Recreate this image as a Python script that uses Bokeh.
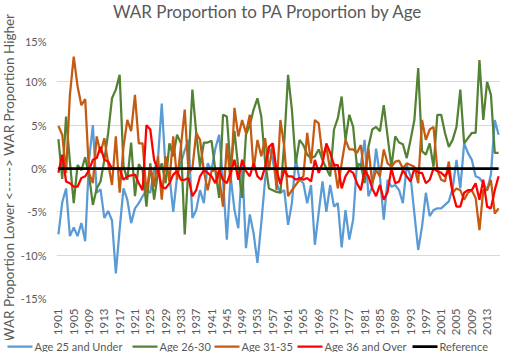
import math
from bokeh.plotting import figure
from bokeh.layouts import column, row
from bokeh.models import Range1d, FixedTicker
from bokeh.core.properties import value
from bokeh.embed import file_html
from bokeh.resources import INLINE

years = list(range(1901, 2017))
tick_years = years[::4]

age_25_under = [
    -7.6, -3.9, -2.3, -7.8, -6.8, -7.8, -6.3, -8.4, 1.0, 5.0,
    -2.8, -2.4, -5.7, -4.9, -6.0, -12.1, -7.0, -2.3, -3.6, -6.3,
    -4.6, -4.0, -3.2, -2.5, -2.8, -0.2, 1.0, 7.5, -0.1, -0.8,
    -5.0, -0.9, 0.6, 2.1, 3.3, -5.7, -4.8, -2.5, -4.0, 0.6,
    -0.2, 2.3, 3.9, -1.3, -8.2, -0.9, -4.8, -6.9, 0.6, -9.2,
    -5.3, -7.5, -10.9, -6.3, -1.3, 2.5, 1.0, -1.7, -2.8, -2.5,
    -6.5, -4.0, 1.2, -1.3, -1.7, -4.0, -1.9, -8.8, -5.1, -1.5,
    -5.0, -1.9, -4.4, -4.0, -9.1, -4.8, -8.2, -5.9, 0.6, 0.4,
    3.3, -3.2, -2.1, 2.3, -0.9, -5.9, -1.3, -2.1, -1.9, -2.5,
    -4.0, 0.4, -0.9, -5.2, -9.4, -6.7, -2.8, -5.5, -4.8, -4.6,
    -4.6, -4.2, -3.8, -2.3, 1.0, -2.3, 2.9, 1.8, 1.0, -0.9,
    -1.1, -1.7, -2.5, -0.7, 5.6, 3.9,
]
age_26_30 = [
    3.4, -1.2, 6.0, 0.8, -4.0, 0.4, -0.2, 1.3, -0.8, -4.2,
    -2.3, -1.5, 1.0, 4.1, 8.1, 9.1, 10.8, 0.3, -1.3, 3.0,
    -3.2, 0.5, -0.2, -4.4, 0.6, -3.6, -0.5, 0.6, -1.7, 2.9,
    1.4, 3.9, 2.9, -7.6, 0.6, 9.1, 4.1, 0.2, 3.0, 3.0,
    3.2, -0.2, -3.4, 6.2, 6.0, 0.0, 4.3, 0.0, -3.4, 3.9,
    5.0, 6.8, 8.1, 6.0, 0.8, -2.3, -2.5, -2.7, -2.8, 3.0,
    10.8, 6.8, 0.6, 3.3, 2.7, 1.6, 1.2, 1.4, 2.2, 1.0,
    0.0, -0.9, 4.5, 5.8, 8.3, 3.3, 6.2, 4.8, 0.2, 0.5,
    -1.7, 2.5, 4.5, 4.8, 4.3, 7.3, 3.7, 0.2, 3.7, 3.0,
    2.8, 1.2, 3.3, 5.6, 11.6, 2.0, 1.6, 2.9, 0.2, 6.2,
    6.2, 4.1, 2.5, 3.3, 4.8, 9.1, 2.9, 3.5, 4.1, 4.1,
    12.5, 5.6, 10.0, 8.5, 1.8, 1.8,
]
age_31_35 = [
    4.9, 3.9, -0.5, 8.5, 12.9, 9.5, 7.3, 8.0, -0.5, -1.7,
    3.7, 1.8, 3.5, 0.6, -1.9, 3.7, -2.8, 2.5, 5.6, 4.3,
    8.5, 2.9, 2.9, -2.8, 0.2, -2.1, 1.4, -3.6, 1.4, -1.5,
    3.7, -1.3, 2.5, 6.8, -0.5, 0.0, 4.1, 3.3, -0.3, -2.5,
    -0.3, -0.2, -1.0, -4.4, 2.9, -1.7, 7.0, 3.7, 5.6, 4.1,
    6.2, -0.2, 3.3, 1.4, 3.5, -0.2, 2.9, -2.5, 5.6, 2.5,
    -3.2, -2.5, -1.9, -1.3, -0.9, 4.1, 0.6, 5.6, 5.2, 1.4,
    2.5, -0.2, 0.6, -2.3, 0.6, 3.3, 2.2, 2.2, 1.8, 2.7,
    -0.9, 2.3, -1.7, -0.2, -0.9, 2.2, 0.6, 0.2, 0.8, 0.9,
    0.0, 0.6, 0.4, 0.2, -1.7, 5.6, 3.3, 4.5, 4.8, -0.2,
    -1.3, -1.5, 0.8, -2.8, -2.3, -2.5, -3.6, -2.8, -2.5, -3.4,
    -7.1, -2.5, -2.5, -1.3, -5.2, -4.6,
]
age_36_over = [
    -0.5, 1.6, -1.5, -1.7, -2.1, -2.1, -1.1, -0.9, -0.2, 1.0,
    1.2, 2.5, 1.0, 0.8, 0.0, 0.0, 0.0, -1.3, -0.9, -0.8,
    -0.7, -1.7, -2.5, 5.0, 4.5, 1.0, -0.2, -2.1, -2.3, -1.7,
    -0.7, -0.3, -1.3, -1.3, -1.1, -3.2, -2.5, -0.9, -0.2, -0.5,
    -0.9, -1.7, -0.2, -1.3, -1.7, -0.5, 1.0, -1.3, 1.0, -0.3,
    -0.9, 0.6, -0.9, -1.3, 0.2, 2.5, 2.9, -0.2, -1.8, -0.2,
    -0.9, -0.9, -1.3, -1.1, -1.3, -1.1, -1.5, 1.0, -0.5, 0.6,
    2.9, 1.8, 0.4, 0.4, -2.3, -0.9, -0.2, -0.5, -1.7, -2.5,
    -0.2, -0.9, -2.3, -3.2, -1.9, -3.6, -2.7, 0.0, -1.7, -1.5,
    -0.2, -0.9, -1.5, 0.0, -0.5, -0.5, -1.7, -1.3, 0.0, -0.3,
    -0.5, -0.9, -0.2, -2.8, -4.4, -4.4, -2.8, -2.5, -2.5, -1.7,
    -3.6, -1.3, -4.4, -4.6, -2.5, -0.9,
]
reference = [0.0] * len(years)

y_ticks = [-15, -10, -5, 0, 5, 10, 15]
y_tick_labels = ["-15%", "-10%", "-5%", "0%", "5%", "10%", "15%"]

title_text = "WAR Proportion to PA Proportion by Age"
y_title_text = "WAR Proportion Lower <-----> WAR Proportion Higher"
series_names = ["Age 25 and Under", "Age 26-30", "Age 31-35", "Age 36 and Over", "Reference"]
series_values = [age_25_under, age_26_30, age_31_35, age_36_over, reference]
series_colors = ["#5B9BD5", "#548235", "#C55A11", "#FF0000", "#000000"]
series_widths = [2.25, 2.25, 2.25, 2.25, 2.75]

# layout-only: left edge of each legend entry (px inside the legend strip)
legend_x = [7, 132, 214, 297, 412]

FONT = "Lato"
TEXT = "#595959"
W_TOTAL = 500
W_YL = 17
W_MAIN = W_TOTAL - W_YL
H_TITLE = 34
H_MAIN = 306
H_LEG = 12
H_TOP = H_TITLE + H_MAIN


def strip(width, height):
    f = figure(width=width, height=height, output_backend="svg", toolbar_location=None,
               x_range=Range1d(0, width), y_range=Range1d(0, height),
               x_axis_location=None, y_axis_location=None,
               min_border_left=0, min_border_right=0, min_border_top=0,
               min_border_bottom=0)
    f.outline_line_color = None
    f.grid.visible = False
    f.title = None
    return f


# ---- title strip ----
ts = strip(W_MAIN, H_TITLE)
ts.text(x=[230], y=[H_TITLE - 11], text=[title_text], text_align="center",
        text_baseline="middle", text_font=value(FONT), text_font_size="17px",
        text_color=TEXT)

# ---- main chart ----
p = figure(width=W_MAIN, height=H_MAIN, output_backend="svg", toolbar_location=None,
           x_range=Range1d(1900.5, 2016.5), y_range=Range1d(-15, 15),
           min_border_left=29, min_border_right=0, min_border_top=4,
           min_border_bottom=42)
p.title = None
p.outline_line_color = None
p.background_fill_color = "white"
p.border_fill_color = "white"

for vals, col, w in zip(series_values, series_colors, series_widths):
    p.line(years, vals, line_color=col, line_width=w)

p.xgrid.grid_line_color = None
p.ygrid.grid_line_color = "#D9D9D9"
p.ygrid.grid_line_width = 1
p.yaxis.ticker = FixedTicker(ticks=y_ticks)
p.yaxis.major_label_overrides = {t: l for t, l in zip(y_ticks, y_tick_labels)}
p.xaxis.ticker = FixedTicker(ticks=tick_years)
p.xaxis.major_label_orientation = math.pi / 2

for ax in (p.xaxis[0], p.yaxis[0]):
    ax.axis_line_color = None
    ax.major_tick_line_color = None
    ax.minor_tick_line_color = None
    ax.major_label_text_font = FONT
    ax.major_label_text_color = TEXT
p.yaxis.major_label_text_font_size = "11px"
p.xaxis.major_label_text_font_size = "11.5px"
p.yaxis.major_label_standoff = 4
p.xaxis.major_label_standoff = 4

# ---- vertical axis title strip ----
yl = strip(W_YL, H_TOP)
yl.text(x=[8.5], y=[H_TOP - 177], text=[y_title_text], angle=math.pi / 2,
        text_align="center", text_baseline="middle", text_font=value(FONT),
        text_font_size="13.5px", text_color=TEXT)

# ---- legend strip ----
lg = strip(W_TOTAL, H_LEG)
ly = H_LEG / 2
lg.segment(x0=legend_x, y0=[ly] * 5, x1=[x + 25 for x in legend_x], y1=[ly] * 5,
           line_color=series_colors, line_width=series_widths)
lg.text(x=[x + 27 for x in legend_x], y=[ly] * 5, text=series_names,
        text_align="left", text_baseline="middle", text_font=value(FONT),
        text_font_size="11px", text_color=TEXT)

layout = column(row(yl, column(ts, p, spacing=0), spacing=0), lg, spacing=0)
open("out.html", "w").write(file_html(layout, INLINE))
